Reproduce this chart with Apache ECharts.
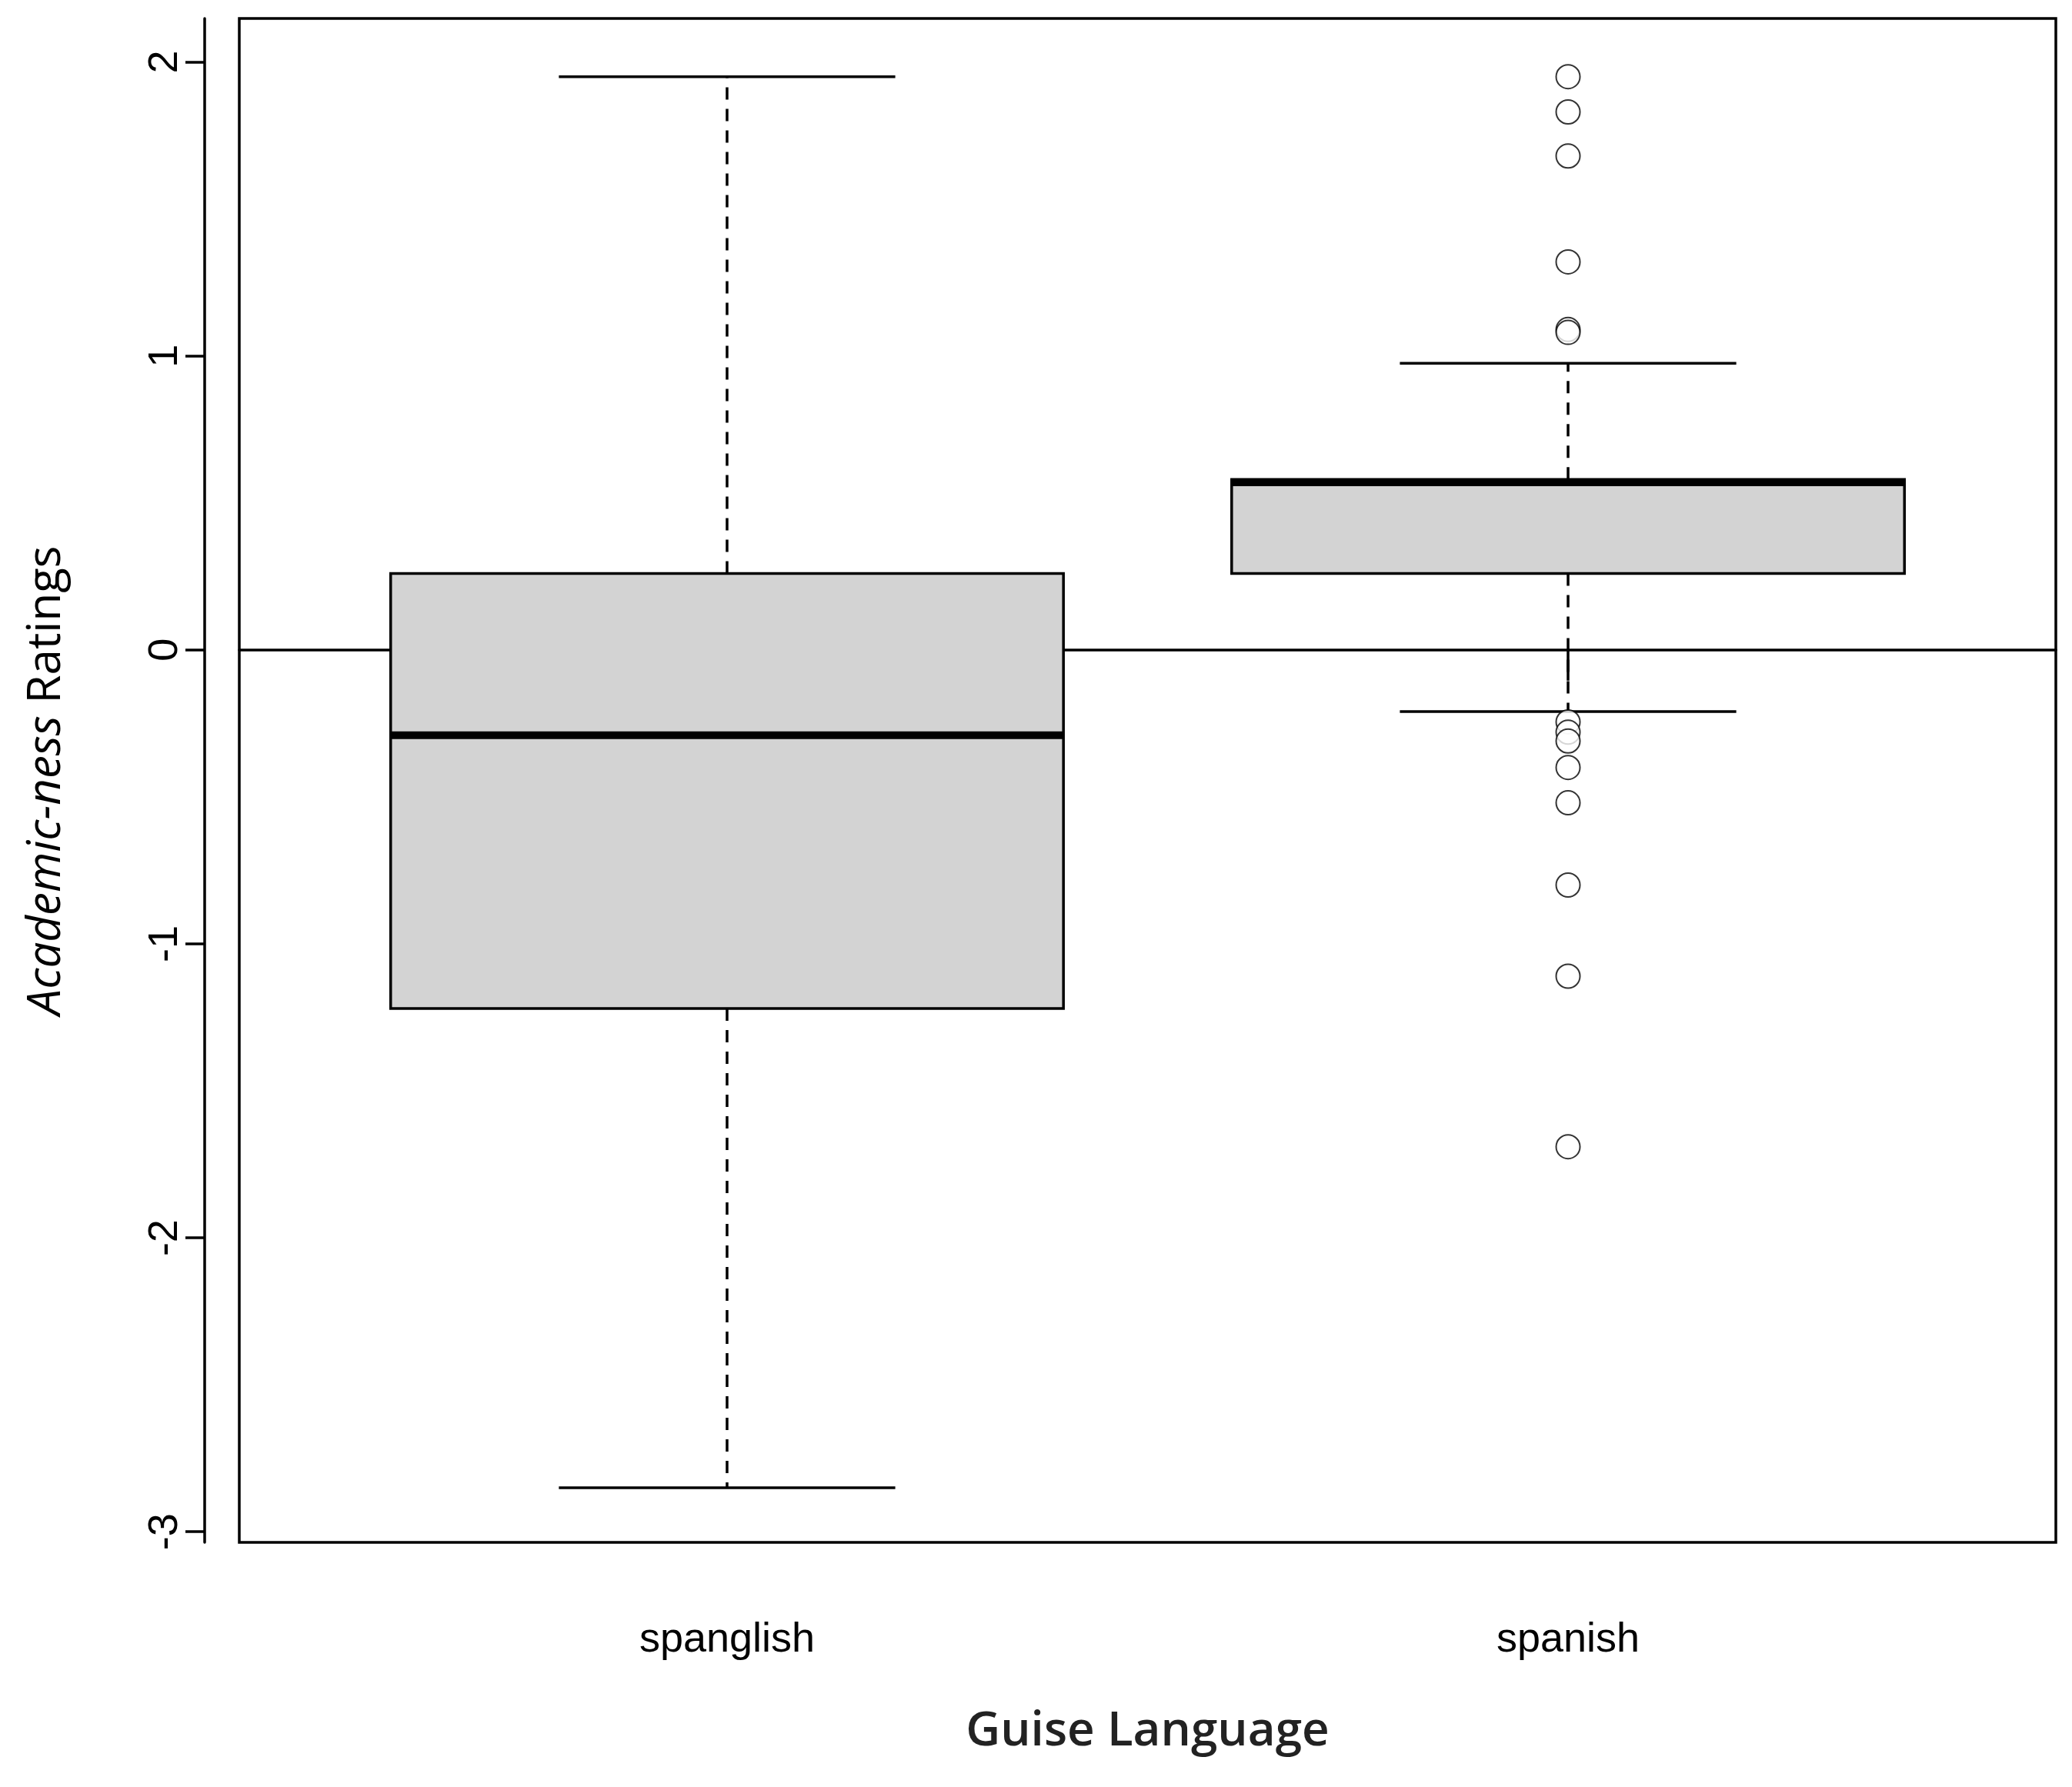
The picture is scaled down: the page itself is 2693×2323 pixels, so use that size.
<!DOCTYPE html>
<html>
<head>
<meta charset="utf-8">
<style>html,body{margin:0;padding:0;background:#fff}#chart{width:2693px;height:2323px}</style>
<script src="https://cdn.jsdelivr.net/npm/echarts@6/dist/echarts.min.js"></script>
</head>
<body>
<div id="chart"></div>
<script>
// group names and their x positions
const categories = ['spanglish', 'spanish'];
const positions = [1, 2];
// [lower whisker, Q1, median, Q3, upper whisker]
const boxStats = [
  [-2.85, -1.22, -0.29, 0.26, 1.95],
  [-0.21, 0.26, 0.57, 0.58, 0.975]
];
// outliers of the spanish group
const spanishOutliers = [1.95, 1.83, 1.68, 1.32, 1.09, 1.08, -0.245, -0.28, -0.31, -0.40, -0.52, -0.80, -1.11, -1.69];
const yTicks = [-3, -2, -1, 0, 1, 2];

const chart = echarts.init(document.getElementById('chart'));
const LW = 3.5;

function renderBox(params, api) {
  const x = api.value(0);
  const lo = api.value(1), q1 = api.value(2), med = api.value(3), q3 = api.value(4), hi = api.value(5);
  const c = (xv, yv) => api.coord([xv, yv]);
  const pQ1L = c(x - 0.4, q1), pQ3R = c(x + 0.4, q3);
  const line = (a, b, style) => ({ type: 'line', shape: { x1: a[0], y1: a[1], x2: b[0], y2: b[1] }, style: style });
  const solid = { stroke: '#000', lineWidth: LW };
  const dashed = { stroke: '#000', lineWidth: LW, lineDash: [16, 12] };
  return {
    type: 'group',
    children: [
      line(c(x, q3), c(x, hi), dashed),
      line(c(x, q1), c(x, lo), dashed),
      line(c(x - 0.2, hi), c(x + 0.2, hi), solid),
      line(c(x - 0.2, lo), c(x + 0.2, lo), solid),
      { type: 'rect', shape: { x: pQ1L[0], y: pQ3R[1], width: pQ3R[0] - pQ1L[0], height: pQ1L[1] - pQ3R[1] },
        style: { fill: '#d3d3d3', stroke: '#000', lineWidth: LW } },
      line(c(x - 0.4, med), c(x + 0.4, med), { stroke: '#000', lineWidth: 10 })
    ]
  };
}

const labelStyle = { fontFamily: 'Liberation Sans', fontSize: 54, color: '#000' };

chart.setOption({
  animation: false,
  backgroundColor: '#fff',
  grid: { left: 311, right: 21, top: 24, bottom: 318, show: true, borderColor: '#000', borderWidth: 3.5, backgroundColor: 'transparent' },
  xAxis: {
    type: 'value', min: 0.42, max: 2.58,
    splitLine: { show: false },
    axisLine: { show: true, lineStyle: { color: '#000', width: 3.5 } },
    axisTick: { show: true, customValues: positions, length: 40, lineStyle: { color: '#000', width: 3.5 } },
    axisLabel: Object.assign({ customValues: positions, margin: 100,
      formatter: v => categories[positions.indexOf(v)] || '' }, labelStyle),
    name: 'Guise Language', nameLocation: 'middle', nameGap: 215,
    nameTextStyle: { fontFamily: 'Open Sans', fontWeight: 600, fontSize: 62, color: '#222' }
  },
  yAxis: {
    type: 'value', min: -3.036, max: 2.148, offset: 45,
    splitLine: { show: false },
    axisLine: { show: true, lineStyle: { color: '#000', width: 3.5 } },
    axisTick: { show: true, customValues: yTicks, length: 25, lineStyle: { color: '#000', width: 3.5 } },
    axisLabel: Object.assign({ customValues: yTicks, rotate: 90, margin: 24 }, labelStyle),
    name: '{i|Academic-ness}{n|Ratings}', nameLocation: 'middle', nameGap: 175, nameRotate: 90,
    nameTextStyle: { rich: {
      i: { fontFamily: 'Open Sans', fontStyle: 'italic', fontSize: 60, color: '#000' },
      n: { fontFamily: 'Open Sans', fontSize: 60, color: '#000', padding: [0, 0, 0, 16] }
    } }
  },
  series: [
    {
      type: 'custom', renderItem: renderBox,
      data: boxStats.map((s, i) => [positions[i]].concat(s))
    },
    {
      type: 'scatter', symbol: 'emptyCircle', symbolSize: 31, z: 5,
      itemStyle: { color: '#000', borderColor: '#000', borderWidth: 3 },
      data: spanishOutliers.map(v => [positions[1], v])
    }
  ]
});
</script>
</body>
</html>
